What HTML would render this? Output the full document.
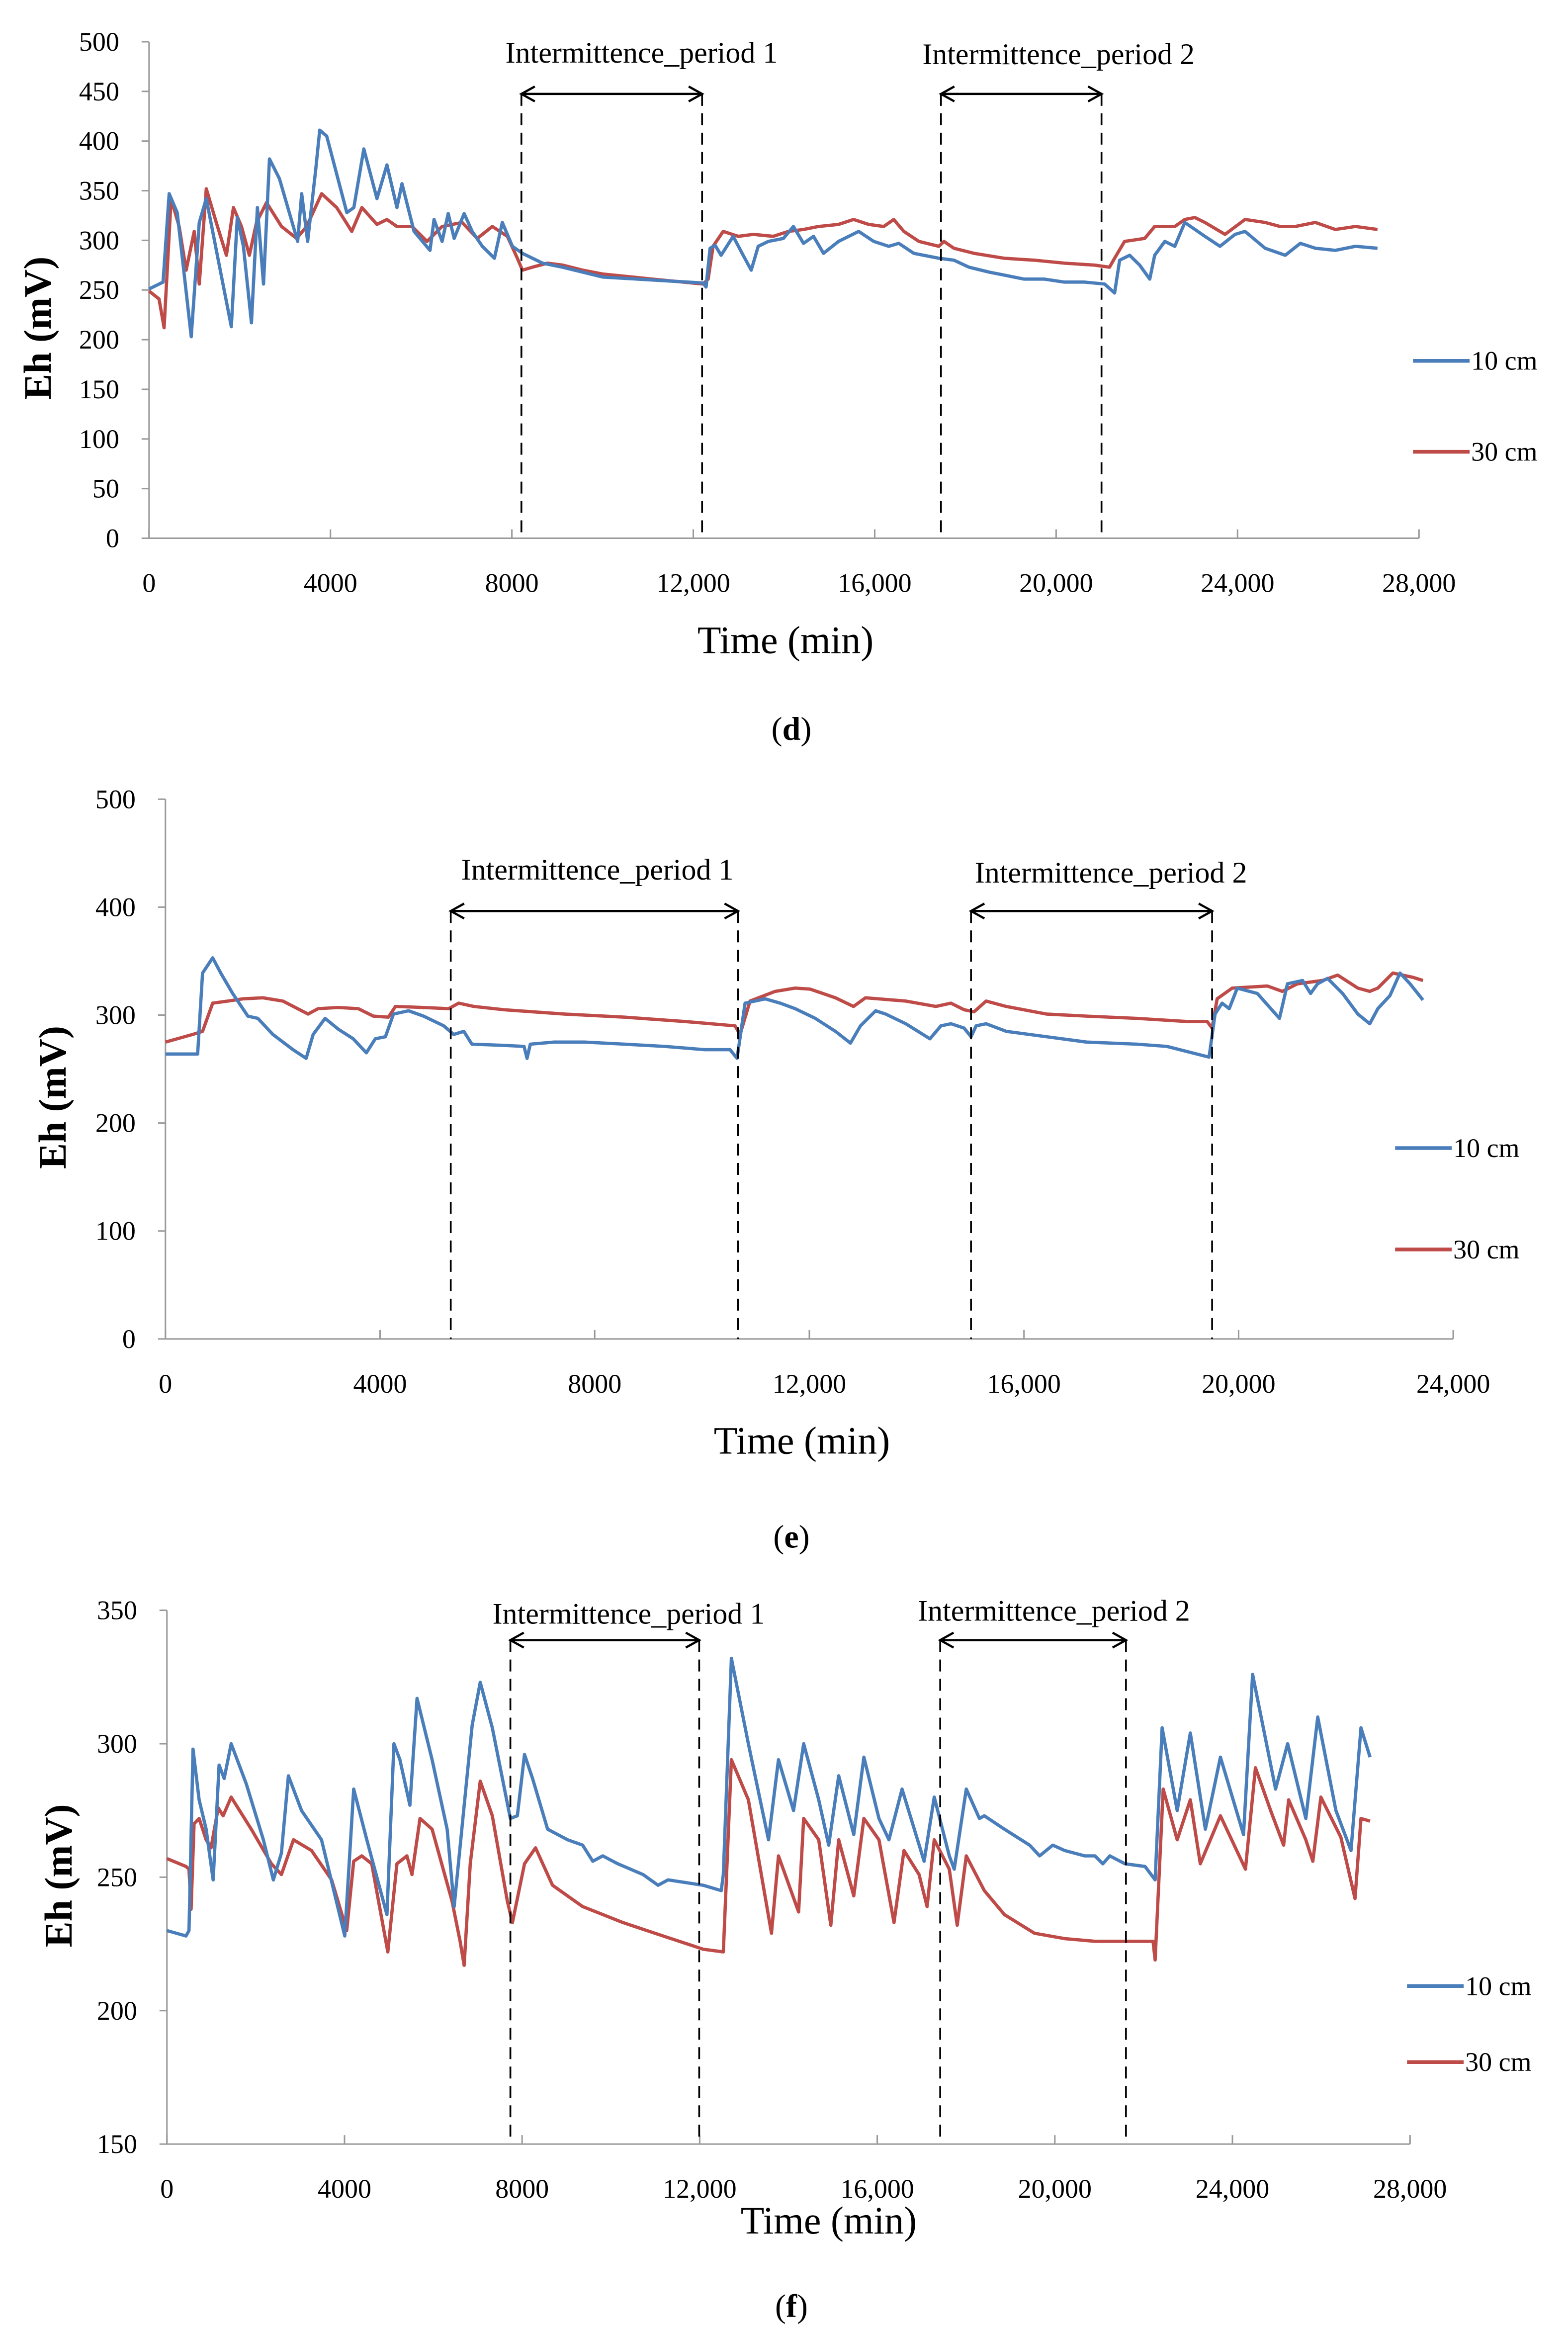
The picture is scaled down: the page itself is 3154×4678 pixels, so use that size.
<!DOCTYPE html>
<html><head><meta charset="utf-8"><style>
html,body{margin:0;padding:0;background:#fff;}
svg{display:block;}
text{font-family:"Liberation Serif",serif;fill:#000;}
</style></head><body>
<svg id="fig" width="3154" height="4678" viewBox="0 0 1052 1560" preserveAspectRatio="none" xmlns="http://www.w3.org/2000/svg"></svg>
<script>
// ===== Chart d data =====
const dBlueX=[0,310,443,620,930,1107,1262,1549,1815,1947,2080,2257,2390,2523,2656,2877,3275,3364,3497,3674,3762,3917,4360,4515,4736,5024,5245,5466,5577,5842,6196,6285,6462,6595,6728,6949,7126,7347,7613,7790,8011,8232,8675,9117,9560,10003,11109,12216,12282,12371,12482,12614,12880,13101,13278,13433,13654,13986,14207,14429,14650,14871,15203,15646,15978,16310,16531,16863,17416,17748,18080,18523,18855,19297,19740,20183,20625,21068,21289,21400,21621,21842,22064,22174,22396,22617,22838,23281,23613,23945,24166,24608,25051,25383,25715,26157,26600,27087];
const dBlueY=[251,258,347,328,203,318,342,275,213,323,294,217,333,256,382,362,299,347,299,371,411,405,328,333,392,342,376,333,357,309,290,321,299,327,302,327,309,294,282,318,294,287,277,273,268,263,260,257,253,292,295,285,304,285,270,294,299,302,314,297,304,287,299,309,299,294,297,287,282,280,273,268,265,261,261,258,258,256,247,280,285,275,261,285,299,294,318,304,294,306,309,292,285,297,292,290,294,292];
const dRedX=[0,221,332,487,664,819,996,1107,1262,1483,1704,1859,2036,2213,2368,2589,2921,3253,3474,3806,4138,4470,4692,5024,5245,5466,5798,6130,6462,6905,7236,7568,7900,8122,8232,8454,8786,9117,9560,10003,11109,12216,12326,12437,12658,12990,13322,13765,14097,14429,14760,15203,15535,15867,16199,16420,16642,16974,17416,17527,17748,18191,18855,19519,20183,20847,21179,21289,21510,21953,22174,22617,22838,23059,23281,23723,24166,24608,24940,25272,25715,26157,26600,27087];
const dRedY=[249,241,212,342,314,270,309,256,352,318,285,333,314,285,318,338,314,302,314,347,333,309,333,316,321,314,314,299,314,318,302,314,304,282,270,273,277,275,270,266,261,256,261,294,309,304,306,304,309,311,314,316,321,316,314,321,309,299,294,299,292,287,282,280,277,275,273,282,299,302,314,314,321,323,318,306,321,318,314,314,318,311,314,311];
const dPeriods=[8210,12194,17461,21001];
const dXTicks=[0,4000,8000,12000,16000,20000,24000,28000];
const dXTickLabels=["0","4000","8000","12,000","16,000","20,000","24,000","28,000"];
const dYTicks=[0,50,100,150,200,250,300,350,400,450,500];

// ===== Chart e data =====
const eBlueX=[0,599,693,880,1030,1254,1535,1722,2003,2377,2621,2752,2976,3220,3501,3744,3912,4100,4250,4530,4811,5185,5373,5560,5710,6309,6683,6740,6800,7245,7806,8555,9304,10053,10521,10652,10802,11176,11457,11737,12112,12486,12767,12954,13235,13422,13797,14246,14452,14639,14882,15013,15107,15294,15669,16417,17166,18102,18664,19132,19450,19562,19693,19824,19974,20349,20760,20910,21191,21341,21472,21659,21940,22221,22445,22595,22820,23007,23194,23437];
const eBlueY=[264,264,339,353,339,320,299,297,282,268,260,282,297,287,278,265,278,280,301,304,299,290,282,285,273,272,271,260,273,275,275,273,271,268,268,260,311,315,311,306,297,285,274,290,304,301,292,278,290,292,288,280,290,292,285,280,275,273,271,265,261,301,311,306,325,320,297,329,332,320,329,334,320,301,292,306,318,339,329,314];
const eRedX=[0,505,693,880,1161,1441,1816,2190,2658,2845,3220,3594,3875,4156,4287,4811,5279,5466,5747,6309,7432,8555,9678,10614,10708,10895,11363,11737,12018,12486,12823,13048,13797,14358,14639,14882,15070,15294,15669,16417,17166,18102,19038,19413,19506,19600,19881,20536,20817,21097,21565,21846,22221,22445,22595,22876,23250,23437];
const eRedY=[275,282,285,311,313,315,316,313,301,306,307,306,299,298,308,307,306,311,308,305,301,298,294,290,282,313,322,325,324,316,308,316,313,308,311,305,303,313,308,301,299,297,294,294,288,315,325,327,322,329,332,337,325,322,325,339,335,332];
const ePeriods=[5317,10670,15013,19506];
const eXTicks=[0,4000,8000,12000,16000,20000,24000];
const eXTickLabels=["0","4000","8000","12,000","16,000","20,000","24,000"];
const eYTicks=[0,100,200,300,400,500];

// ===== Chart f data =====
const fBlueX=[0,430,498,588,724,882,1041,1176,1289,1448,1787,2172,2398,2579,2737,3031,3483,4004,4207,4501,4954,5112,5248,5474,5632,5972,6311,6469,6763,6876,7057,7329,7736,7894,8053,8234,8573,9025,9365,9591,9817,10156,10722,11061,11288,12079,12486,12532,12713,13097,13550,13776,14115,14341,14680,14907,15133,15472,15698,16038,16264,16558,17055,17282,17621,17734,18006,18300,18413,18865,19431,19657,19951,20222,20675,20901,21082,21240,21580,22032,22258,22417,22756,23050,23390,23729,24249,24453,24973,25244,25652,25923,26330,26669,26895,27099];
const fBlueY=[230,228,230,298,279,268,249,292,287,300,285,264,249,259,288,275,264,228,283,264,236,300,294,277,317,294,268,239,288,307,323,306,272,273,296,287,268,264,262,256,258,255,251,247,249,247,245,251,332,300,264,294,275,300,279,262,288,266,295,272,264,283,256,280,258,253,283,272,273,268,262,258,262,260,258,258,255,258,255,254,249,306,275,304,268,295,266,326,283,300,272,310,275,260,306,295];
const fRedX=[0,430,498,543,611,724,882,995,1154,1267,1448,1900,2353,2579,2850,3257,3710,4049,4207,4388,4614,4976,5180,5406,5519,5700,5972,6424,6605,6696,6831,7057,7329,7668,7781,8053,8302,8686,9365,10269,11174,12079,12532,12713,13097,13617,13776,14228,14341,14680,14952,15133,15472,15698,16038,16377,16603,16942,17123,17282,17621,17802,18006,18413,18865,19544,20222,20901,22213,22258,22439,22756,23050,23276,23729,24294,24520,24860,25154,25267,25652,25810,25991,26443,26760,26895,27099];
const fRedY=[257,254,253,238,270,272,264,261,276,273,280,268,255,251,264,260,249,230,256,258,255,222,255,258,251,272,268,241,226,217,255,286,273,241,233,255,261,247,239,233,228,223,222,294,279,229,258,237,272,264,232,264,243,272,264,233,260,251,239,264,253,232,258,245,236,229,227,226,226,219,283,264,279,255,273,253,291,275,262,279,264,256,280,265,242,272,271];
const fPeriods=[7736,11989,17417,21602];
const fXTicks=[0,4000,8000,12000,16000,20000,24000,28000];
const fXTickLabels=["0","4000","8000","12,000","16,000","20,000","24,000","28,000"];
const fYTicks=[150,200,250,300,350];

const NS="http://www.w3.org/2000/svg";
const fig=document.getElementById('fig');
function mk(tag,attrs,parent){const e=document.createElementNS(NS,tag);for(const k in attrs)e.setAttribute(k,attrs[k]);(parent||fig).appendChild(e);return e;}

function chart(c){
  const g=mk('g',{});
  
  
  const sx=v=>c.x0+(v-c.xmin)/(c.xmax-c.xmin)*(c.x1-c.x0);
  const sy=v=>c.y0+(v-c.ymin)/(c.ymax-c.ymin)*(c.y1-c.y0);
  const ya=mk('line',{x1:c.x0,y1:c.y0,x2:c.x0,y2:c.y1,stroke:'#999','stroke-width':1},g);
  
  
  const xa=mk('line',{x1:c.x0,y1:c.y0,x2:c.x1,y2:c.y0,stroke:'#999','stroke-width':1},g);
  
  
  c.yt.forEach(v=>{
    mk('line',{x1:c.x0-5,y1:sy(v),x2:c.x0,y2:sy(v),stroke:'#999','stroke-width':1},g);
    const t=mk('text',{x:c.x0-20,y:sy(v)+6,'text-anchor':'end','font-size':18},g);
    t.textContent=v;
    
    
  });
  c.xt.forEach((v,i)=>{
    mk('line',{x1:sx(v),y1:c.y0,x2:sx(v),y2:c.y0-6,stroke:'#999','stroke-width':1},g);
    const t=mk('text',{x:sx(v),y:c.y0+36,'text-anchor':'middle','font-size':18},g);
    t.textContent=c.xl[i];
    
    
  });
  mk('line',{x1:c.x1,y1:c.y0,x2:c.x1,y2:c.y0-6,stroke:'#999','stroke-width':1},g);
  [[c.rx,c.ry,'#be4b48','series-30cm'],[c.bx,c.by,'#4a7ebb','series-10cm']].forEach(s=>{
    let d='';s[0].forEach((x,i)=>{d+=(i?'L':'M')+sx(x).toFixed(1)+' '+sy(s[1][i]).toFixed(1);});
    const p=mk('path',{d:d,fill:'none',stroke:s[2],'stroke-width':2.2,'stroke-linejoin':'round'},g);
    
    
  });
  c.per.forEach(v=>{
    const l=mk('line',{x1:sx(v),y1:c.arrowY,x2:sx(v),y2:c.y0,stroke:'#000','stroke-width':1.2,'stroke-dasharray':'8,5'},g);
    
    
  });
  [[c.per[0],c.per[1],'Intermittence_period 1'],[c.per[2],c.per[3],'Intermittence_period 2']].forEach((p,i)=>{
    const a=sx(p[0]),b=sx(p[1]),y=c.arrowY;
    const ar=mk('path',{d:`M${a} ${y}H${b}M${a+9} ${y-5}L${a} ${y}L${a+9} ${y+5}M${b-9} ${y-5}L${b} ${y}L${b-9} ${y+5}`,fill:'none',stroke:'#000','stroke-width':1.5},g);
    
    
    const t=mk('text',{x:(a+b)/2+c.labOff[i],y:c.labY[i],'text-anchor':'middle','font-size':20},g);
    t.textContent=p[2];
    
    
  });
  const xt=mk('text',{x:c.xlab[0],y:c.xlab[1],'text-anchor':'middle','font-size':26},g);
  xt.textContent='Time (min)';
  
  
  const yt=mk('text',{x:0,y:0,'text-anchor':'middle','font-size':26,'font-weight':'bold',transform:`translate(${c.ylab[0]},${c.ylab[1]}) rotate(-90)`},g);
  yt.textContent='Eh (mV)';
  
  
  [['10 cm','#4a7ebb',c.leg[1]],['30 cm','#be4b48',c.leg[2]]].forEach(L=>{
    const lg=mk('g',{},g);
    
    
    mk('line',{x1:c.leg[0],y1:L[2],x2:c.leg[0]+38,y2:L[2],stroke:L[1],'stroke-width':2.5},lg);
    const t=mk('text',{x:c.leg[0]+39,y:L[2]+6,'font-size':18},lg);
    t.textContent=L[0];
  });
  const cap=mk('text',{x:c.cap[0],y:c.cap[1],'text-anchor':'middle','font-size':22},g);
  cap.innerHTML='(<tspan font-weight="bold">'+c.capL+'</tspan>)';
  
  
}

chart({name:'chart-d',x0:100,x1:952,y0:361,y1:28,xmin:0,xmax:28000,ymin:0,ymax:500,
  bx:dBlueX,by:dBlueY,rx:dRedX,ry:dRedY,per:dPeriods,xt:dXTicks,xl:dXTickLabels,yt:dYTicks,
  arrowY:63,labY:[42,43],labOff:[20,25],xlab:[527,438],ylab:[34,220],leg:[948,242,303],cap:[531,496],capL:'d'});
chart({name:'chart-e',x0:111,x1:975,y0:898,y1:536,xmin:0,xmax:24000,ymin:0,ymax:500,
  bx:eBlueX,by:eBlueY,rx:eRedX,ry:eRedY,per:ePeriods,xt:eXTicks,xl:eXTickLabels,yt:eYTicks,
  arrowY:611,labY:[590,592],labOff:[2,13],xlab:[538,975],ylab:[44,736],leg:[936,770,838],cap:[531,1038],capL:'e'});
chart({name:'chart-f',x0:112,x1:946,y0:1438,y1:1080,xmin:0,xmax:28000,ymin:150,ymax:350,
  bx:fBlueX,by:fBlueY,rx:fRedX,ry:fRedY,per:fPeriods,xt:fXTicks,xl:fXTickLabels,yt:fYTicks,
  arrowY:1100,labY:[1089,1087],labOff:[16,14],xlab:[556,1498],ylab:[48,1258],leg:[944,1332,1383],cap:[531,1554],capL:'f'});
</script>
</body></html>
